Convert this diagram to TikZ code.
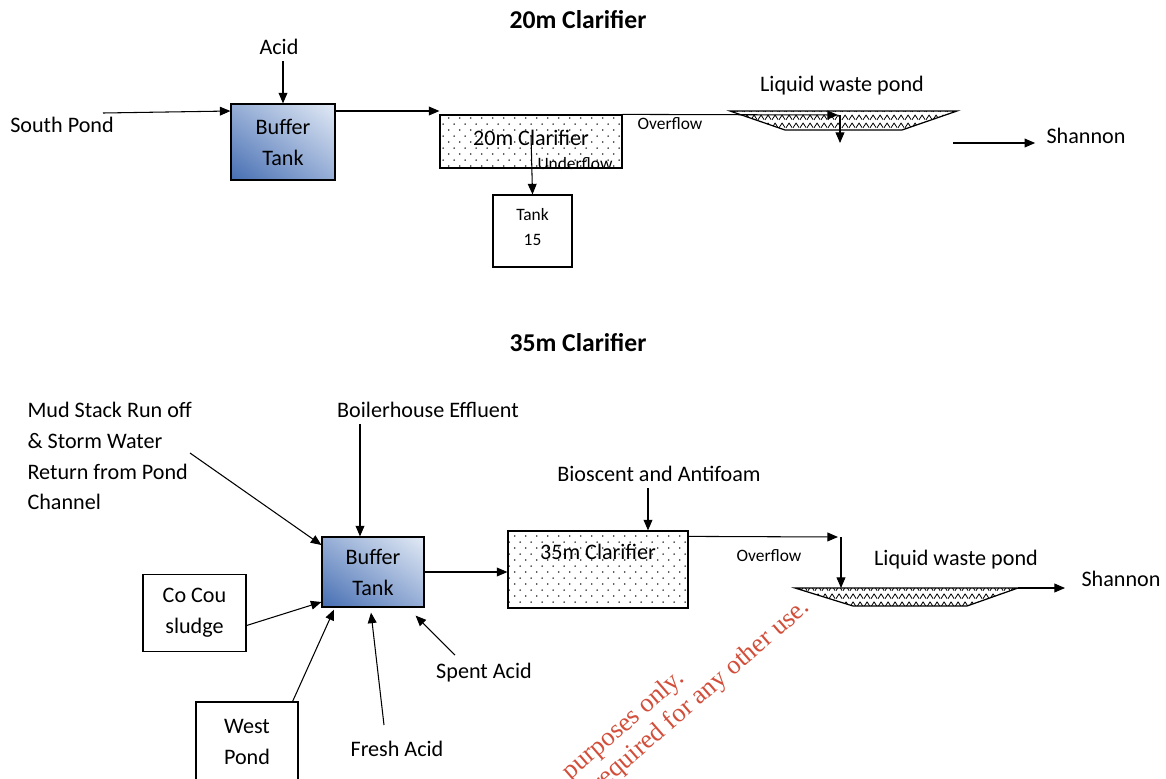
\documentclass[tikz,border=0pt]{standalone}
\usepackage{fontspec}
\setmainfont{Carlito}
\newfontfamily\stampfont{Liberation Serif}
\usetikzlibrary{arrows.meta,patterns.meta,shadings}

\definecolor{tankdark}{RGB}{70,110,178}
\definecolor{tankmid}{RGB}{150,174,214}
\definecolor{tanklight}{RGB}{226,234,245}
\definecolor{stamp}{RGB}{210,78,58}

\tikzdeclarepattern{
  name=claydots,
  type=uncolored,
  bounding box={(0,0) and (6.2pt,6.8pt)},
  tile size={(6.2pt,6.8pt)},
  code={
    \fill (1.55pt,1.7pt) circle (0.5pt);
    \fill (4.65pt,5.1pt) circle (0.5pt);
  }
}
\tikzdeclarepattern{
  name=ripple,
  type=uncolored,
  bounding box={(0,0) and (4pt,4.4pt)},
  tile size={(4pt,4.4pt)},
  code={
    \draw[line width=0.5pt,line join=round] (0,0.7pt) -- (2pt,3.5pt) -- (4pt,0.7pt);
  }
}

\begin{document}
\begin{tikzpicture}[x=0.02cm,y=-0.02cm,line width=0.6pt,
  >={Triangle[length=6pt,width=5pt]},
  lab/.style={font=\fontsize{12.6}{17.6}\selectfont},
  small/.style={font=\fontsize{9.9}{14.5}\selectfont},
  heading/.style={font=\fontsize{14.6}{17}\selectfont\bfseries},
  box/.style={draw,line width=0.7pt,align=center},
  tank/.style={box,lab,lower left=tankdark,upper right=tanklight,upper left=tankmid,lower right=tankmid},
  clar/.style={box,lab,pattern={claydots},pattern color=black!85},
  pond/.style={draw,line width=0.7pt,pattern={ripple},pattern color=black},
  stamptext/.style={text=stamp,font=\stampfont\fontsize{15}{18}\selectfont,rotate=41,anchor=base east,inner sep=0pt}]
	\useasboundingbox (0,0) rectangle (1166,778);
	\clip (0,0) rectangle (1166,778);

	% 20m clarifier line
	\node[heading] (t20) at (578,20) {20m Clarifier};
	\node[lab] (acid) at (279,47) {Acid};
	\node[tank,minimum width=2.08cm,minimum height=1.52cm] (buf20) at (283,142) {Buffer\\Tank};
	\node[lab] (south) at (62,125) {South Pond};
	\node[clar,minimum width=3.64cm,minimum height=1.06cm,text depth=0.14cm] (clar20) at (531,141.5) {20m Clarifier};
	\node[box,small,minimum width=1.58cm,minimum height=1.44cm,text depth=0.16cm] (tank15) at (532.5,231) {Tank\\15};
	\node[lab] (pond20) at (842,86) {Liquid waste pond};
	\node[small] (over20) at (670,124) {Overflow};
	\node[small] (under20) at (575,164) {Underflow};
	\node[lab] (shan20) at (1086,136) {Shannon};
	\draw[pond] (730,111) -- (957,111) -- (902,130) -- (785,130) -- cycle;

	\coordinate (sp) at (103,113);
	\coordinate (drop20) at (838,115);
	\coordinate (sink20) at (840,143);
	\coordinate (draw20) at (531,135);
	\coordinate (out20) at (953,143);
	\draw[->] (buf20.north |- acid.south) -- (buf20.north);
	\draw[->] (sp) -- ([yshift=0.62cm]buf20.west);
	\draw[->] ([yshift=0.62cm]buf20.east) -- ([yshift=0.62cm]buf20.east -| clar20.west);
	\draw[->] (clar20.north east) -- (drop20);
	\draw[->] (drop20 -| sink20) -- (sink20);
	\draw[->] (draw20) -- (tank15.north);
	\draw[->] (out20) -- ([xshift=-0.1cm]out20 -| shan20.west);

	% 35m clarifier line
	\node[heading] (t35) at (578,343) {35m Clarifier};
	\node[tank,minimum width=2.04cm,minimum height=1.4cm] (buf35) at (373,572) {Buffer\\Tank};
	\node[lab] (boiler) at (428,410) {Boilerhouse Effluent};
	\node[lab,align=left,anchor=west,inner xsep=0pt] (mud) at (27,456) {Mud Stack Run off\\\& Storm Water\\Return from Pond\\Channel};
	\node[box,lab,minimum width=2.06cm,minimum height=1.54cm] (cocou) at (194.5,613) {Co Cou\\sludge};
	\node[box,lab,minimum width=2.04cm,minimum height=1.6cm] (west) at (247,742) {West\\Pond};
	\node[lab] (fresh) at (397,749) {Fresh Acid};
	\node[lab] (spent) at (484,673) {Spent Acid};
	\node[clar,minimum width=3.6cm,minimum height=1.54cm,text depth=0.72cm] (clar35) at (598,569.5) {35m Clarifier};
	\node[lab] (bio) at (659,474) {Bioscent and Antifoam};
	\node[lab] (pond35) at (956,560) {Liquid waste pond};
	\node[small] (over35) at (769,556) {Overflow};
	\node[lab] (shan35) at (1121,579) {Shannon};
	\draw[pond] (795,588) -- (1018,588) -- (967,606) -- (853,606) -- cycle;

	\coordinate (boilin) at (360,424);
	\coordinate (mudout) at (190,453);
	\coordinate (freshin) at (384,725);
	\coordinate (spentin) at (455,655);
	\coordinate (bioin) at (648,488);
	\coordinate (drop35) at (838,537);
	\coordinate (sink35) at (841,588);
	\coordinate (out35) at (1018,588);
	\coordinate (end35) at (1065,588);
	\draw[->] (boilin) -- (boilin |- buf35.north);
	\draw[->] (mudout) -- ([yshift=0.54cm]buf35.west);
	\draw[->] ([yshift=-0.25cm]cocou.east) -- ([yshift=-0.6cm]buf35.west);
	\draw[->] ([xshift=-0.12cm]west.north east) -- ([xshift=-0.78cm,yshift=-0.04cm]buf35.south);
	\draw[->] (freshin) -- ([xshift=-0.04cm,yshift=-0.1cm]buf35.south);
	\draw[->] (spentin) -- ([shift={(-0.18cm,-0.16cm)}]buf35.south east);
	\draw[->] (buf35.east) -- (buf35.east -| clar35.west);
	\draw[->] (bioin) -- (bioin |- clar35.north);
	\draw[->] ([yshift=-0.12cm]clar35.north east) -- (drop35);
	\draw[->] (drop35 -| sink35) -- (sink35);
	\draw[->] (out35) -- (end35);

	\node[stamptext] (wm1) at (686,680) {purposes only.};
	\node[stamptext] (wm2) at (811,609) {required for any other use.};
\end{tikzpicture}
\end{document}
